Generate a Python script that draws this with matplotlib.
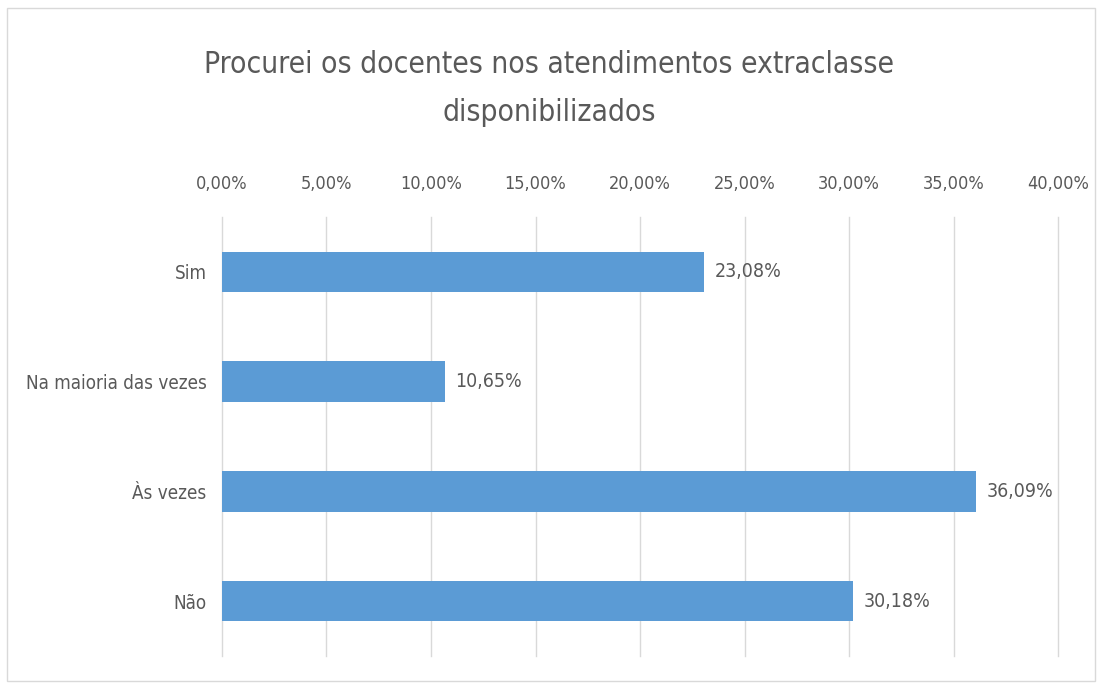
import matplotlib
matplotlib.use('Agg')
import matplotlib.pyplot as plt
from matplotlib.patches import Rectangle

plt.rcParams['font.family'] = ['DejaVu Sans']
plt.rcParams['font.stretch'] = 'condensed'

# data
categories = ['Sim', 'Na maioria das vezes', 'Às vezes', 'Não']
values = [23.08, 10.65, 36.09, 30.18]
ticks = [0, 5, 10, 15, 20, 25, 30, 35, 40]

BLUE = '#5B9BD5'
TEXT = '#595959'
GRID = '#D9D9D9'


def pct(v):
    return f"{v:.2f}%".replace('.', ',')


fig = plt.figure(figsize=(10.99, 6.84), dpi=100)
ax = fig.add_axes([0.202, 0.041, 0.7607, 0.6417])

ypos = list(range(len(categories)))
ax.barh(ypos, values, height=0.37, color=BLUE, zorder=3)
for y, v in zip(ypos, values):
    ax.text(v + 0.5, y, pct(v), va='center', ha='left',
            fontsize=14, color=TEXT)

ax.set_xlim(0, 40)
ax.set_ylim(len(categories) - 0.5, -0.5)
ax.set_yticks(ypos)
ax.set_yticklabels(categories, fontsize=13.5, color=TEXT)
ax.set_xticks(ticks)
ax.set_xticklabels([pct(t) for t in ticks], fontsize=13, color=TEXT)
ax.xaxis.tick_top()
ax.tick_params(axis='x', length=0, pad=17)
ax.tick_params(axis='y', length=0, pad=11)
ax.grid(axis='x', color=GRID, linewidth=1, zorder=0)
for s in ax.spines.values():
    s.set_visible(False)
for gl in ax.get_xgridlines():
    gl.set_clip_on(False)

fig.text(0.5, 0.905, 'Procurei os docentes nos atendimentos extraclasse',
         ha='center', va='center', fontsize=21.5, color=TEXT)
fig.text(0.5, 0.835, 'disponibilizados',
         ha='center', va='center', fontsize=21.5, color=TEXT)

# light chart border
fig.patches.append(Rectangle((0.006, 0.004), 0.99, 0.984, transform=fig.transFigure,
                             fill=False, edgecolor='#D9D9D9', linewidth=1))

fig.savefig('out.png', dpi=100, facecolor='white')
